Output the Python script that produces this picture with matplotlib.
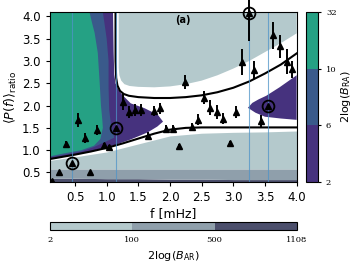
import matplotlib
matplotlib.use("Agg")
import matplotlib.pyplot as plt
import numpy as np
from matplotlib.colors import ListedColormap, BoundaryNorm
from matplotlib.cm import ScalarMappable

# measured ratio points (f in mHz)
freq = [0.14, 0.25, 0.36, 0.55, 0.65, 0.74, 0.85, 0.95, 1.04, 1.25, 1.35, 1.45,
        1.54, 1.65, 1.74, 1.85, 1.94, 2.04, 2.14, 2.24, 2.34, 2.44, 2.54, 2.63,
        2.74, 2.84, 2.95, 3.04, 3.13, 3.33, 3.44, 3.63, 3.74, 3.84, 3.93]
ratio = [0.31, 0.52, 1.14, 1.68, 1.27, 0.52, 1.45, 1.11, 1.06, 2.07, 1.86, 1.90,
         1.90, 1.32, 1.88, 1.94, 1.48, 1.48, 1.10, 2.53, 1.52, 1.68, 2.18, 1.95,
         1.86, 1.71, 1.17, 1.85, 2.98, 2.80, 1.65, 3.58, 3.33, 2.98, 2.81]
ratio_err = [0.0, 0.0, 0.07, 0.16, 0.11, 0.0, 0.12, 0.06, 0.05, 0.18, 0.13, 0.13,
             0.13, 0.08, 0.12, 0.12, 0.08, 0.08, 0.03, 0.16, 0.08, 0.12, 0.14, 0.17,
             0.15, 0.12, 0.04, 0.13, 0.29, 0.20, 0.13, 0.30, 0.26, 0.28, 0.20]

# highlighted modes
circ_f = [0.46, 1.15, 3.24, 3.54]
circ_y = [0.72, 1.49, 4.08, 2.00]
circ_err = [0.0, 0.0, 0.62, 0.0]

# model curves
low_f = [0.1, 0.3, 0.5, 0.75, 1.0, 1.25, 1.5, 1.75, 2.0, 2.25, 2.5, 3.0, 3.5, 4.0]
low_y = [0.80, 0.85, 0.90, 0.97, 1.05, 1.15, 1.26, 1.37, 1.46, 1.50, 1.51, 1.51, 1.51, 1.51]
up_f = [1.14, 1.14, 1.15, 1.17, 1.21, 1.27, 1.35, 1.5, 1.75, 2.0, 2.25, 2.5, 2.75,
        3.0, 3.25, 3.5, 3.75, 4.0]
up_y = [4.09, 3.0, 2.62, 2.45, 2.33, 2.26, 2.22, 2.19, 2.17, 2.17, 2.19, 2.23, 2.30,
        2.40, 2.54, 2.72, 2.92, 3.17]

# B_AR regions
ar_f = [0.1, 0.5, 1.0, 1.5, 2.0, 2.5, 3.0, 3.5, 4.0]
ar_dark_top = [0.37, 0.37, 0.36, 0.36, 0.35, 0.35, 0.34, 0.34, 0.34]
ar_mid_top = [0.58, 0.58, 0.58, 0.58, 0.58, 0.58, 0.58, 0.58, 0.58]
ar_light_top = [0.77, 0.85, 0.96, 1.14, 1.32, 1.38, 1.40, 1.41, 1.43]
ar_up_f = [1.19, 1.19, 1.2, 1.23, 1.28, 1.36, 1.5, 1.75, 2.0, 2.25, 2.5, 2.75, 3.0,
           3.25, 3.5, 3.75, 4.0, 4.0]
ar_up_y = [4.09, 2.85, 2.68, 2.56, 2.48, 2.44, 2.42, 2.41, 2.43, 2.48, 2.56, 2.68,
           2.83, 3.0, 3.2, 3.4, 3.62, 4.09]

# B_RA regions
purple_f = [0.1, 0.1, 1.10, 1.11, 1.12, 1.14, 1.18, 1.24, 1.38, 1.6, 1.81, 1.89,
            1.80, 1.65, 1.38, 1.12, 0.6, 0.1]
purple_y = [0.81, 4.09, 4.09, 3.2, 2.7, 2.5, 2.37, 2.25, 2.05, 1.94, 1.79, 1.64,
            1.53, 1.40, 1.24, 1.11, 0.92, 0.81]
purple2_f = [3.23, 3.3, 3.4, 3.52, 3.73, 4.0, 4.0, 3.75, 3.5, 3.35]
purple2_y = [1.95, 2.06, 2.14, 2.22, 2.41, 2.68, 1.68, 1.71, 1.75, 1.84]
blue_f = [0.1, 0.1, 0.94, 0.97, 1.0, 1.03, 1.03, 1.04, 1.07, 1.10, 1.12, 1.0, 0.8,
          0.6, 0.3, 0.1]
blue_y = [0.84, 4.09, 4.09, 3.8, 3.5, 3.0, 2.4, 1.9, 1.55, 1.40, 1.28, 1.20, 1.07,
          0.97, 0.89, 0.84]
green_f = [0.1, 0.1, 0.73, 0.77, 0.81, 0.86, 0.89, 0.91, 0.93, 0.94, 0.90, 0.80,
           0.6, 0.3, 0.1]
green_y = [0.86, 4.09, 4.09, 3.85, 3.63, 3.18, 2.5, 2.0, 1.7, 1.5, 1.25, 1.10,
           1.0, 0.92, 0.86]

ra_levels = [2, 6, 10, 32]
ra_colors = ['#46327e', '#3a5a8b', '#25a184']
ar_levels = [2, 100, 500, 1108]
ar_colors = ['#b4c9cc', '#8f9fab', '#4b4e6b']

fig = plt.figure(figsize=(3.6, 2.7), dpi=100)
ax = fig.add_axes([0.138, 0.325, 0.686, 0.629])

ax.fill_between(ar_f, 0.0, ar_dark_top, color=ar_colors[2], lw=0)
ax.fill_between(ar_f, ar_dark_top, ar_mid_top, color=ar_colors[1], lw=0)
ax.fill_between(ar_f, ar_mid_top, ar_light_top, color=ar_colors[0], lw=0)
ax.fill(ar_up_f, ar_up_y, color=ar_colors[0], lw=0)

ax.fill(purple_f, purple_y, color=ra_colors[0], lw=0)
ax.fill(purple2_f, purple2_y, color=ra_colors[0], lw=0)
ax.fill(blue_f, blue_y, color=ra_colors[1], lw=0)
ax.fill(green_f, green_y, color=ra_colors[2], lw=0)

ax.plot(low_f, low_y, color='k', lw=1.5)
ax.plot(up_f, up_y, color='k', lw=1.5)

for fc in circ_f:
    ax.axvline(fc, color='#4f94c8', lw=0.8, alpha=0.75)

ax.errorbar(freq, ratio, yerr=ratio_err, fmt='^', color='k', ms=4.5,
            elinewidth=1.4, capsize=0)
ax.errorbar(circ_f, circ_y, yerr=circ_err, fmt='^', color='k', ms=4.5,
            elinewidth=1.4, capsize=0, clip_on=False)
ax.plot(circ_f, circ_y, 'o', mfc='none', mec='k', ms=8.5, mew=1.3, clip_on=False)

ax.text(0.54, 0.985, '(a)', transform=ax.transAxes, fontsize=7, fontweight='bold',
        ha='center', va='top')

ax.set_xlim(0.1, 4.0)
ax.set_ylim(0.28, 4.09)
ax.set_xticks([0.5, 1.0, 1.5, 2.0, 2.5, 3.0, 3.5, 4.0])
ax.set_yticks([0.5, 1.0, 1.5, 2.0, 2.5, 3.0, 3.5, 4.0])
ax.tick_params(labelsize=8.5, length=3)
ax.set_xlabel('f [mHz]', fontsize=9, labelpad=2)
ax.set_ylabel(r'$\langle P(f)\rangle_{\rm ratio}$', fontsize=9, labelpad=2)

# right colorbar (B_RA)
cax = fig.add_axes([0.850, 0.325, 0.034, 0.631])
sm = ScalarMappable(cmap=ListedColormap(ra_colors),
                    norm=BoundaryNorm(ra_levels, len(ra_colors)))
cb = fig.colorbar(sm, cax=cax, ticks=ra_levels, spacing='uniform')
cb.ax.tick_params(labelsize=6, length=2)
for t in cb.ax.get_yticklabels():
    t.set_family('DejaVu Serif')
cb.set_label(r'2log($B_{\rm RA}$)', fontsize=8, labelpad=2)

# bottom colorbar (B_AR)
bax = fig.add_axes([0.139, 0.148, 0.686, 0.0285])
sm2 = ScalarMappable(cmap=ListedColormap(ar_colors),
                     norm=BoundaryNorm(ar_levels, len(ar_colors)))
cb2 = fig.colorbar(sm2, cax=bax, orientation='horizontal', ticks=ar_levels,
                   spacing='uniform')
cb2.ax.tick_params(labelsize=6, length=0, pad=4)
for t in cb2.ax.get_xticklabels():
    t.set_family('DejaVu Serif')
cb2.set_label(r'2log($B_{\rm AR}$)', fontsize=8, labelpad=4)

fig.savefig('out.png', dpi=100)
